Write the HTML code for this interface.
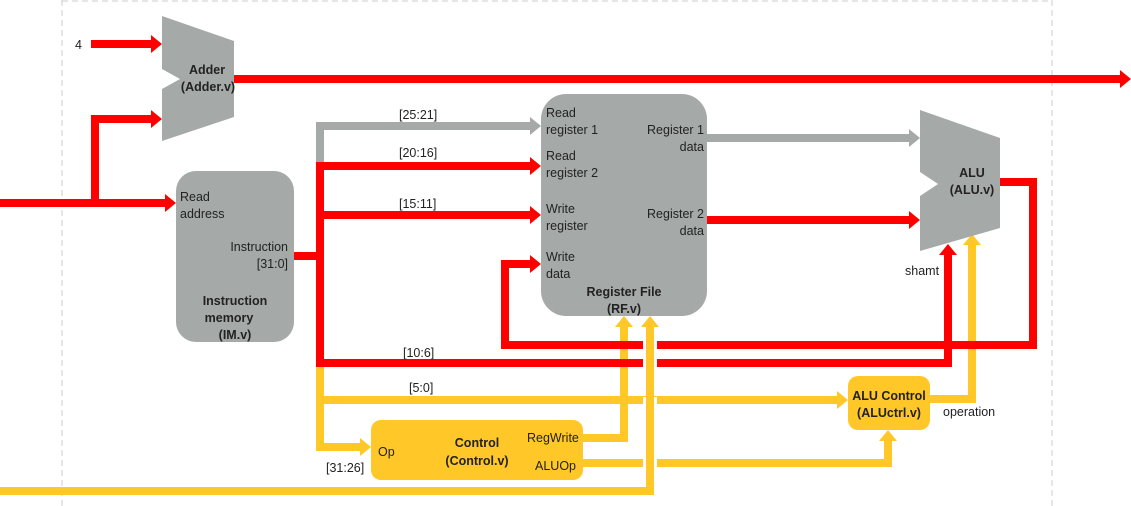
<!DOCTYPE html>
<html><head><meta charset="utf-8"><style>
html,body{margin:0;padding:0;background:#fff}
svg{display:block}
text{font-family:"Liberation Sans",sans-serif;font-size:12.5px;fill:#222}
.b{font-weight:bold}
</style></head><body>
<svg width="1131" height="506" viewBox="0 0 1131 506" xmlns="http://www.w3.org/2000/svg">
<defs>
<marker id="ar" markerWidth="11" markerHeight="18" refX="5" refY="9" orient="auto" markerUnits="userSpaceOnUse"><path d="M0,0 L11,9 L0,18 Z" fill="#f00"/></marker>
<marker id="ag" markerWidth="11" markerHeight="18" refX="5" refY="9" orient="auto" markerUnits="userSpaceOnUse"><path d="M0,0 L11,9 L0,18 Z" fill="#a5aaa8"/></marker>
<marker id="ay" markerWidth="11" markerHeight="18" refX="5" refY="9" orient="auto" markerUnits="userSpaceOnUse"><path d="M0,0 L11,9 L0,18 Z" fill="#ffc727"/></marker>
</defs>
<g stroke="#ccc" stroke-dasharray="6,4" fill="none" stroke-width="1">
<line x1="62" y1="1" x2="1052" y2="1"/><line x1="62" y1="0" x2="62" y2="506"/><line x1="1052" y1="0" x2="1052" y2="506"/>
</g>
<g fill="none" stroke-width="8" stroke-linejoin="miter">
<!-- yellow -->
<polyline points="583,438 624,438 624,322" stroke="#ffc727" marker-end="url(#ay)"/>
<polyline points="320,260 320,447 365,447" stroke="#ffc727" marker-end="url(#ay)"/>
<polyline points="320,400 842,400" stroke="#ffc727" marker-end="url(#ay)"/>
<polyline points="583,463 888,463 888,436" stroke="#ffc727" marker-end="url(#ay)"/>
<polyline points="930,399 972,399 972,240" stroke="#ffc727" marker-end="url(#ay)"/>
<!-- gray -->
<polyline points="320,170 320,126 535,126" stroke="#a5aaa8" marker-end="url(#ag)"/>
<polyline points="707,138 914,138" stroke="#a5aaa8" marker-end="url(#ag)"/>
<!-- red -->
<polyline points="91,44 156,44" stroke="#f00" marker-end="url(#ar)"/>
<polyline points="234,79 1125,79" stroke="#f00" marker-end="url(#ar)"/>
<polyline points="0,203 170,203" stroke="#f00" marker-end="url(#ar)"/>
<polyline points="95,203 95,119 156,119" stroke="#f00" marker-end="url(#ar)"/>
<polyline points="294,256 320,256" stroke="#f00"/>
<polyline points="320,166 535,166" stroke="#f00" marker-end="url(#ar)"/>
<polyline points="320,215 535,215" stroke="#f00" marker-end="url(#ar)"/>
<polyline points="320,162 320,363 948,363 948,250" stroke="#f00" marker-end="url(#ar)"/>
<polyline points="707,220 914,220" stroke="#f00" marker-end="url(#ar)"/>
<polyline points="1000,182 1033,182 1033,345 505,345 505,264 535,264" stroke="#f00" marker-end="url(#ar)"/>
<!-- top yellow vertical -->
<polyline points="650,397 650,409" stroke="#fff" stroke-width="14"/>
<polyline points="650,341 650,368" stroke="#fff" stroke-width="14"/>
<polyline points="650,459 650,467" stroke="#fff" stroke-width="14"/>
<polyline points="0,491 650,491 650,322" stroke="#ffc727" marker-end="url(#ay)"/>
</g>
<polygon points="162,16 234,41 234,117 162,141 162,89 180,79 162,69" fill="#a5aaa8"/>
<polygon points="920,110 1000,138 1000,228 920,251 920,196 938,184 920,172" fill="#a5aaa8"/>
<rect x="176" y="171" width="118" height="171" rx="20" fill="#a5aaa8"/>
<rect x="541" y="94" width="166" height="222" rx="25" fill="#a5aaa8"/>
<rect x="371" y="420" width="212" height="60" rx="10" fill="#ffc727"/>
<rect x="848" y="376" width="82" height="54" rx="10" fill="#ffc727"/>
<text x="75" y="49">4</text>
<text x="207" y="74" class="b" text-anchor="middle">Adder</text>
<text x="208" y="91" class="b" text-anchor="middle">(Adder.v)</text>
<text x="180" y="201">Read</text><text x="180" y="218">address</text>
<text x="288" y="251" text-anchor="end">Instruction</text><text x="288" y="268" text-anchor="end">[31:0]</text>
<text x="235" y="305" class="b" text-anchor="middle">Instruction</text>
<text x="229" y="322" class="b" text-anchor="middle">memory</text>
<text x="235" y="339" class="b" text-anchor="middle">(IM.v)</text>
<text x="399" y="119">[25:21]</text><text x="399" y="157">[20:16]</text><text x="399" y="208">[15:11]</text>
<text x="403" y="357">[10:6]</text><text x="409" y="392">[5:0]</text><text x="326" y="472">[31:26]</text>
<text x="546" y="117">Read</text><text x="546" y="134">register 1</text>
<text x="546" y="160">Read</text><text x="546" y="177">register 2</text>
<text x="546" y="213">Write</text><text x="546" y="230">register</text>
<text x="546" y="261">Write</text><text x="546" y="278">data</text>
<text x="704" y="134" text-anchor="end">Register 1</text><text x="704" y="151" text-anchor="end">data</text>
<text x="704" y="218" text-anchor="end">Register 2</text><text x="704" y="235" text-anchor="end">data</text>
<text x="624" y="296" class="b" text-anchor="middle">Register File</text>
<text x="624" y="313" class="b" text-anchor="middle">(RF.v)</text>
<text x="972" y="177" class="b" text-anchor="middle">ALU</text>
<text x="972" y="194" class="b" text-anchor="middle">(ALU.v)</text>
<text x="905" y="275">shamt</text>
<text x="889" y="400" class="b" text-anchor="middle">ALU Control</text>
<text x="889" y="417" class="b" text-anchor="middle">(ALUctrl.v)</text>
<text x="943" y="416">operation</text>
<text x="378" y="456">Op</text>
<text x="477" y="447" class="b" text-anchor="middle">Control</text>
<text x="477" y="465" class="b" text-anchor="middle">(Control.v)</text>
<text x="527" y="442">RegWrite</text><text x="535" y="470">ALUOp</text>
</svg>
</body></html>
